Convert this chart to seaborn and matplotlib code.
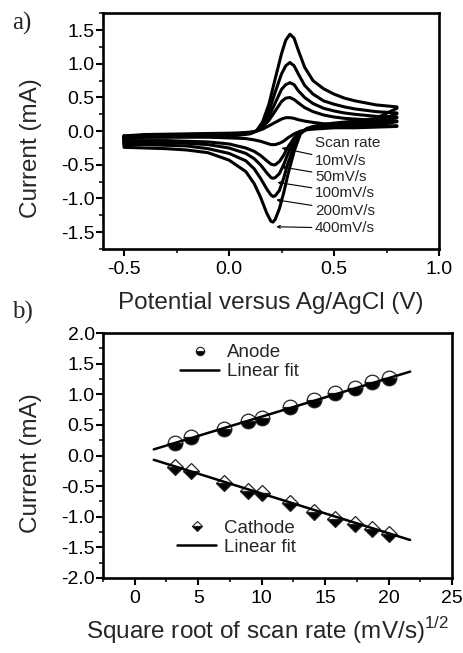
import numpy as np
import pandas as pd
import matplotlib
matplotlib.use("Agg")
import matplotlib.pyplot as plt
import seaborn as sns
from matplotlib.lines import Line2D
from matplotlib.ticker import MultipleLocator

# ---------------- data: panel a (cyclic voltammograms) ----------------
scan_rates = ["10mV/s", "50mV/s", "100mV/s", "200mV/s", "400mV/s"]

fwd_E = [-0.5, -0.4, -0.3, -0.2, -0.1, 0.0, 0.05, 0.1, 0.13, 0.16, 0.19, 0.22, 0.25,
         0.27, 0.29, 0.31, 0.33, 0.36, 0.40, 0.45, 0.5, 0.55, 0.6, 0.7, 0.8]
fwd_10 = [-0.07, -0.05, -0.045, -0.04, -0.035, -0.03, -0.025, -0.015, 0.0, 0.03, 0.08, 0.13, 0.18,
          0.20, 0.20, 0.19, 0.17, 0.15, 0.13, 0.11, 0.10, 0.09, 0.09, 0.08, 0.08]
fwd_50 = [-0.08, -0.06, -0.055, -0.05, -0.045, -0.04, -0.035, -0.02, 0.0, 0.06, 0.16, 0.30, 0.44,
          0.49, 0.50, 0.47, 0.42, 0.35, 0.29, 0.24, 0.21, 0.19, 0.18, 0.16, 0.15]
fwd_100 = [-0.09, -0.07, -0.065, -0.06, -0.055, -0.05, -0.04, -0.025, 0.0, 0.08, 0.22, 0.42, 0.62,
           0.69, 0.72, 0.69, 0.60, 0.50, 0.41, 0.34, 0.30, 0.27, 0.25, 0.22, 0.21]
fwd_200 = [-0.10, -0.08, -0.075, -0.07, -0.065, -0.06, -0.05, -0.03, 0.0, 0.10, 0.30, 0.58, 0.85,
           0.97, 1.02, 0.97, 0.85, 0.68, 0.55, 0.45, 0.40, 0.36, 0.33, 0.29, 0.27]
fwd_400 = [-0.11, -0.09, -0.085, -0.08, -0.075, -0.07, -0.06, -0.04, 0.0, 0.14, 0.40, 0.78, 1.15,
           1.35, 1.44, 1.38, 1.20, 0.95, 0.75, 0.63, 0.55, 0.49, 0.45, 0.39, 0.36]

rev_E = [0.8, 0.7, 0.6, 0.5, 0.45, 0.4, 0.37, 0.34, 0.31, 0.28, 0.26, 0.24, 0.22,
         0.21, 0.20, 0.18, 0.15, 0.12, 0.08, 0.0, -0.1, -0.2, -0.3, -0.4, -0.5]
rev_10 = [0.07, 0.06, 0.05, 0.05, 0.04, 0.03, 0.02, 0.0, -0.04, -0.10, -0.15, -0.18, -0.20,
          -0.20, -0.20, -0.18, -0.15, -0.13, -0.11, -0.10, -0.09, -0.09, -0.09, -0.09, -0.09]
rev_50 = [0.14, 0.09, 0.08, 0.07, 0.06, 0.05, 0.03, -0.01, -0.10, -0.24, -0.36, -0.45, -0.50,
          -0.50, -0.49, -0.44, -0.36, -0.30, -0.25, -0.19, -0.16, -0.15, -0.14, -0.14, -0.14]
rev_100 = [0.20, 0.12, 0.10, 0.08, 0.07, 0.05, 0.03, -0.02, -0.15, -0.34, -0.50, -0.63, -0.69,
           -0.70, -0.69, -0.62, -0.50, -0.41, -0.33, -0.25, -0.20, -0.18, -0.17, -0.17, -0.17]
rev_200 = [0.26, 0.15, 0.12, 0.10, 0.08, 0.06, 0.03, -0.03, -0.22, -0.48, -0.70, -0.88, -0.96,
           -0.97, -0.95, -0.86, -0.70, -0.56, -0.44, -0.33, -0.26, -0.22, -0.21, -0.20, -0.20]
rev_400 = [0.34, 0.19, 0.15, 0.12, 0.10, 0.07, 0.04, -0.04, -0.30, -0.65, -0.92, -1.15, -1.31,
           -1.35, -1.34, -1.22, -0.98, -0.78, -0.60, -0.43, -0.32, -0.28, -0.26, -0.25, -0.24]

label_E = 0.40
label_I = [-0.44, -0.68, -0.92, -1.18, -1.44]
target_E = [0.25, 0.25, 0.23, 0.225, 0.225]
target_I = [-0.25, -0.53, -0.76, -1.02, -1.42]

# ---------------- data: panel b (peak current vs sqrt(scan rate)) ----------------
sqrt_rate = [3.16, 4.47, 7.07, 8.94, 10.0, 12.25, 14.14, 15.81, 17.32, 18.71, 20.0]
anode = [0.20, 0.30, 0.44, 0.56, 0.62, 0.79, 0.91, 1.02, 1.11, 1.20, 1.26]
cathode = [-0.18, -0.26, -0.45, -0.58, -0.62, -0.78, -0.92, -1.03, -1.12, -1.20, -1.28]
fit_x = [1.5, 21.7]
anode_fit = [0.10, 1.37]
cathode_fit = [-0.07, -1.38]

# ---------------- style ----------------
sns.set_theme(style="ticks")
plt.rcParams["font.family"] = ["Liberation Sans", "DejaVu Sans"]
plt.rcParams["mathtext.fontset"] = "custom"
plt.rcParams["mathtext.rm"] = "Liberation Sans"
plt.rcParams["axes.linewidth"] = 1.8
plt.rcParams["axes.edgecolor"] = "black"

TICK = 14
LAB = 17.5

fig = plt.figure(figsize=(4.63, 6.53), dpi=100)
ax1 = fig.add_axes([0.2225, 0.6187, 0.7257, 0.3609])
ax2 = fig.add_axes([0.2225, 0.1149, 0.7538, 0.3751])

# ---- panel a ----
fwd = [fwd_10, fwd_50, fwd_100, fwd_200, fwd_400]
rev = [rev_10, rev_50, rev_100, rev_200, rev_400]
rows = []
for name, f, r in zip(scan_rates, fwd, rev):
    E = fwd_E + rev_E + [fwd_E[0]]
    I = f + r + [f[0]]
    for k, (e, i) in enumerate(zip(E, I)):
        rows.append({"E": e, "I": i, "rate": name, "order": k})
cv = pd.DataFrame(rows)
sns.lineplot(data=cv, x="E", y="I", units="rate", estimator=None, sort=False,
             color="black", lw=2.2, ax=ax1)

ax1.text(label_E + 0.01, -0.175, "Scan rate", fontsize=11, va="center", ha="left")
for name, ly, tx, ty in zip(scan_rates, label_I, target_E, target_I):
    ax1.annotate(name, xy=(tx, ty), xytext=(label_E + 0.01, ly), fontsize=11,
                 va="center", ha="left",
                 arrowprops=dict(arrowstyle="->", lw=0.8, color="black",
                                 mutation_scale=5, shrinkA=0, shrinkB=0))

ax1.set_xlim(-0.6, 1.0)
ax1.set_ylim(-1.75, 1.75)
ax1.xaxis.set_minor_locator(MultipleLocator(0.25))
ax1.yaxis.set_minor_locator(MultipleLocator(0.25))
ax1.set_xticks([-0.5, 0.0, 0.5, 1.0])
ax1.set_xticklabels(["-0.5", "0.0", "0.5", "1.0"])
ax1.set_yticks([-1.5, -1.0, -0.5, 0.0, 0.5, 1.0, 1.5])
ax1.set_yticklabels(["-1.5", "-1.0", "-0.5", "0.0", "0.5", "1.0", "1.5"])
ax1.set_xlabel("Potential versus Ag/AgCl (V)", fontsize=LAB, labelpad=10)
ax1.set_ylabel("Current (mA)", fontsize=LAB)
ax1.yaxis.set_label_coords(-0.182, 0.43)

# ---- panel b ----
ax2.plot(sqrt_rate, anode, ls="", marker="o", ms=10.5, fillstyle="bottom",
         markerfacecolor="black", markerfacecoloralt="white",
         markeredgecolor="#222222", markeredgewidth=0.9, zorder=3)
ax2.plot(sqrt_rate, cathode, ls="", marker="D", ms=8.5, fillstyle="bottom",
         markerfacecolor="black", markerfacecoloralt="white",
         markeredgecolor="#222222", markeredgewidth=0.9, zorder=3)
sns.lineplot(x=fit_x, y=anode_fit, color="black", lw=1.8, ax=ax2, zorder=4)
sns.lineplot(x=fit_x, y=cathode_fit, color="black", lw=1.8, ax=ax2, zorder=4)

h_an = [Line2D([], [], ls="", marker="o", ms=6, fillstyle="bottom", markerfacecolor="black",
               markerfacecoloralt="white", markeredgecolor="#222222", markeredgewidth=0.8),
        Line2D([], [], color="black", lw=1.8)]
h_ca = [Line2D([], [], ls="", marker="D", ms=5, fillstyle="bottom", markerfacecolor="black",
               markerfacecoloralt="white", markeredgecolor="#222222", markeredgewidth=0.8),
        Line2D([], [], color="black", lw=1.8)]
leg1 = ax2.legend(h_an, ["Anode", "Linear fit"], loc="center left",
                  bbox_to_anchor=(0.2206, 0.88), frameon=False, fontsize=13.5,
                  handlelength=2.1, handletextpad=0.4, labelspacing=0.1,
                  borderpad=0, borderaxespad=0)
ax2.add_artist(leg1)
ax2.legend(h_ca, ["Cathode", "Linear fit"], loc="center left",
           bbox_to_anchor=(0.212, 0.164), frameon=False, fontsize=13.5,
           handlelength=2.1, handletextpad=0.4, labelspacing=0.1,
           borderpad=0, borderaxespad=0)

ax2.set_xlim(-2.5, 25)
ax2.set_ylim(-2.0, 2.0)
ax2.xaxis.set_major_locator(MultipleLocator(5))
ax2.xaxis.set_minor_locator(MultipleLocator(2.5))
ax2.yaxis.set_minor_locator(MultipleLocator(0.25))
ax2.set_yticks([-2.0, -1.5, -1.0, -0.5, 0.0, 0.5, 1.0, 1.5, 2.0])
ax2.set_yticklabels(["-2.0", "-1.5", "-1.0", "-0.5", "0.0", "0.5", "1.0", "1.5", "2.0"])
ax2.set_xlabel(r"Square root of scan rate (mV/s)$^{\mathregular{1/2}}$", fontsize=LAB, labelpad=14)
ax2.xaxis.set_label_coords(0.473, -0.15)
ax2.xaxis.label.set_va("top")
ax2.set_ylabel("Current (mA)", fontsize=LAB)
ax2.yaxis.set_label_coords(-0.175, 0.469)

for ax in (ax1, ax2):
    for s in ax.spines.values():
        s.set_visible(True)
        s.set_linewidth(1.9)
        s.set_color("black")
    ax.tick_params(which="major", direction="out", length=5, width=1.5,
                   labelsize=TICK, colors="black", top=False, right=False)
    ax.tick_params(which="minor", direction="out", length=3, width=1.3,
                   top=False, right=False)
    ax.tick_params(axis="y", which="major", pad=1)
    ax.tick_params(axis="x", which="major", pad=4)
    ax.set_facecolor("white")

fig.text(0.026, 0.955, "a)", fontsize=18, family="Liberation Serif")
fig.text(0.026, 0.512, "b)", fontsize=18, family="Liberation Serif")

fig.savefig("out.png", dpi=100, facecolor="white")
